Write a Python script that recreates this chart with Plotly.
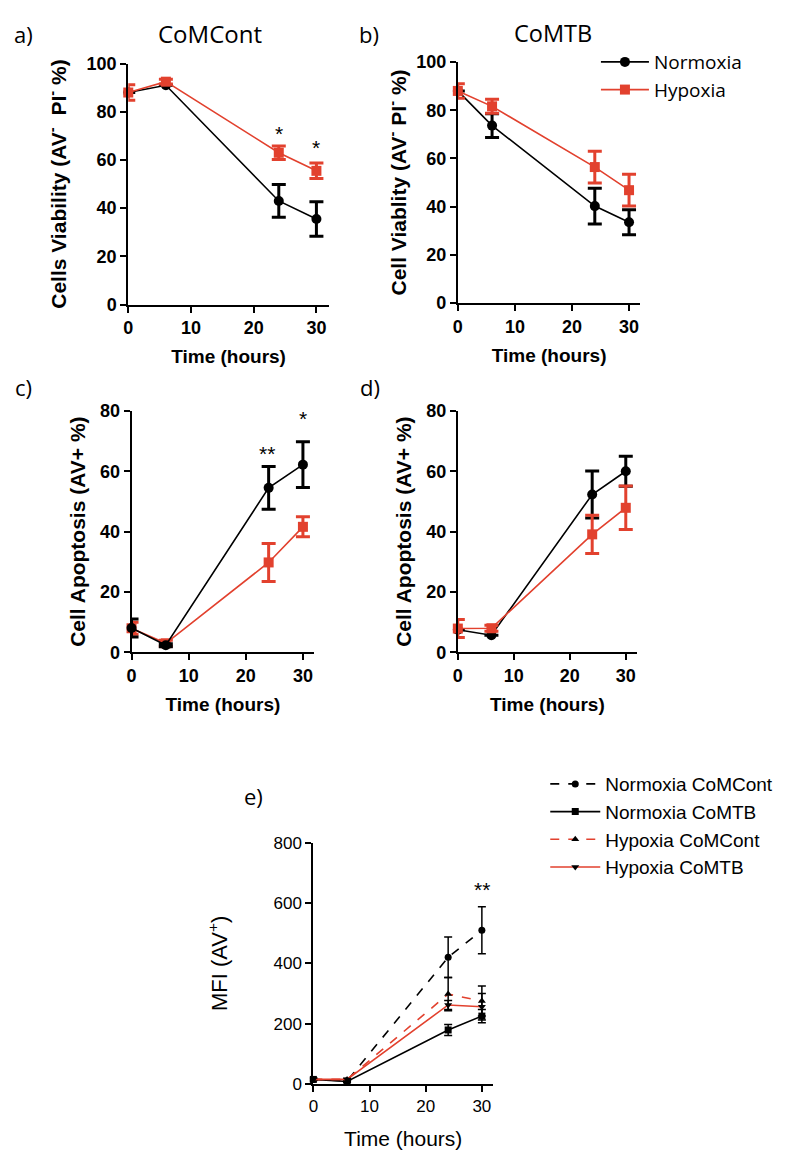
import plotly.graph_objects as go

# Mapping between figure pixels and the photographed picture (measured):
# picture_y = SY_ * (figure_y + 8) + CY ; picture_x = figure_x + 8 + CX
SY_ = 0.983
CX, CY = 2.0, 9.8
OFF = 8
W, H = 779, 1152
RED = "#e2412e"
BLACK = "#000000"

time = [0, 6, 24, 30]

# Panel a: CoMCont viability
a_norm = [88, 91, 43, 35.5]
a_norm_err = [0, 0, 6.8, 7.2]
a_hyp = [88, 92.5, 63, 55.5]
a_hyp_err = [3.2, 1, 2.8, 3.2]

# Panel b: CoMTB viability
b_norm = [88, 73.6, 40.2, 33.5]
b_norm_err = [0, 4.9, 7.4, 5.2]
b_hyp = [88, 81.6, 56.4, 46.8]
b_hyp_err = [3, 2.9, 6.6, 6.6]

# Panel c: CoMCont apoptosis
c_norm = [8.1, 2.4, 54.5, 62.2]
c_norm_err = [3, 0.5, 7.1, 7.6]
c_hyp = [8, 3, 29.8, 41.6]
c_hyp_err = [2, 1, 6.3, 3.3]

# Panel d: CoMTB apoptosis
d_norm = [7.5, 5.7, 52.3, 60]
d_norm_err = [0, 0, 7.8, 5]
d_hyp = [7.9, 8, 39.1, 47.9]
d_hyp_err = [3, 1, 6.3, 7.2]

# Panel e: MFI
e_norm_comcont = [15, 10, 420, 510]
e_norm_comcont_err = [3, 3, 67, 78]
e_norm_comtb = [15, 8, 179, 225]
e_norm_comtb_err = [3, 3, 18, 22]
e_hyp_comcont = [15, 15, 298, 275]
e_hyp_comcont_err = [3, 3, 55, 50]
e_hyp_comtb = [15, 15, 262, 256]
e_hyp_comtb_err = [3, 3, 15, 44]

fig = go.Figure()


def SX(x):
    return x - CX - OFF


def SY(y):
    return (y - CY) / SY_ - OFF


def PX(x):
    return max(0.0, SX(x)) / W


def PY(y):
    return 1 - max(0.0, SY(y)) / H


def xd(p0, p1):
    return [PX(p0), PX(p1)]


def yd(top, bottom):
    return [PY(bottom), PY(top)]


BOLD = dict(family="Liberation Sans", size=18, color="black", weight="bold")
REG = dict(family="Liberation Sans", size=17, color="black")


def add_axes(i, xdom, ydom, yrange, ydtick, ytitle, bold=True, xstand=13, ystand=8):
    f = BOLD if bold else REG
    xtf = dict(f, size=19) if bold else dict(f, size=21)
    ytf = dict(f, size=21) if bold else dict(f, size=22)
    xname = "xaxis" if i == 1 else f"xaxis{i}"
    yname = "yaxis" if i == 1 else f"yaxis{i}"
    anchor_x = "y" if i == 1 else f"y{i}"
    anchor_y = "x" if i == 1 else f"x{i}"
    fig.update_layout({
        xname: dict(domain=xdom, anchor=anchor_x, range=[0, 32], tickvals=[0, 10, 20, 30],
                    showline=True, linecolor="black", linewidth=2, ticks="outside",
                    ticklen=6, tickwidth=2, tickcolor="black", showgrid=False, zeroline=False,
                    tickfont=f, title=dict(text="Time (hours)", font=xtf, standoff=xstand)),
        yname: dict(domain=ydom, anchor=anchor_y, range=yrange, dtick=ydtick,
                    showline=True, linecolor="black", linewidth=2, ticks="outside",
                    ticklen=6, tickwidth=2, tickcolor="black", showgrid=False, zeroline=False,
                    tickfont=f, title=dict(text=ytitle, font=ytf, standoff=ystand)),
    })


add_axes(1, xd(126, 328), yd(63.3, 304.3), [0, 100], 20,
         "Cells Viability (AV<sup>-</sup>  PI<sup>-</sup> %)", ystand=14)
add_axes(2, xd(457.7, 641.5), yd(61.7, 302.7), [0, 100], 20,
         "Cell Viablity (AV<sup>-</sup> PI<sup>-</sup> %)", ystand=4)
add_axes(3, xd(129.3, 313.3), yd(410.7, 652.3), [0, 80], 20, "Cell Apoptosis (AV+ %)", ystand=9)
add_axes(4, xd(457.7, 638), yd(410.7, 652.3), [0, 80], 20, "Cell Apoptosis (AV+ %)", ystand=9)
add_axes(5, xd(312.3, 493.2), yd(842.7, 1084), [0, 800], 200, "MFI (AV<sup>+</sup>)",
         bold=False, xstand=16, ystand=40)


def series(xa, ya, y, err, color, symbol, name, show, legend="legend"):
    fig.add_trace(go.Scatter(
        x=time, y=y, xaxis=xa, yaxis=ya, mode="lines+markers", name=name,
        showlegend=show, legend=legend, cliponaxis=False,
        line=dict(color=color, width=1.6),
        marker=dict(color=color, symbol=symbol, size=10),
        error_y=dict(type="data", array=err, thickness=3, width=7, color=color),
    ))


series("x", "y", a_norm, a_norm_err, BLACK, "circle", "Normoxia", False)
series("x", "y", a_hyp, a_hyp_err, RED, "square", "Hypoxia", False)
series("x2", "y2", b_norm, b_norm_err, BLACK, "circle", "Normoxia", True)
series("x2", "y2", b_hyp, b_hyp_err, RED, "square", "Hypoxia", True)
series("x3", "y3", c_hyp, c_hyp_err, RED, "square", "Hypoxia", False)
series("x3", "y3", c_norm, c_norm_err, BLACK, "circle", "Normoxia", False)
series("x4", "y4", d_norm, d_norm_err, BLACK, "circle", "Normoxia", False)
series("x4", "y4", d_hyp, d_hyp_err, RED, "square", "Hypoxia", False)


def eseries(y, err, color, dash, symbol, name, msize):
    fig.add_trace(go.Scatter(
        x=time, y=y, xaxis="x5", yaxis="y5", mode="lines+markers", name=name,
        legend="legend2", cliponaxis=False,
        line=dict(color=color, width=1.6, dash=dash),
        marker=dict(color="black", symbol=symbol, size=msize),
        error_y=dict(type="data", array=err, thickness=1.5, width=4, color="black"),
    ))


eseries(e_norm_comcont, e_norm_comcont_err, BLACK, "dash", "circle", "Normoxia CoMCont", 7)
eseries(e_norm_comtb, e_norm_comtb_err, BLACK, "solid", "square", "Normoxia CoMTB", 7)
eseries(e_hyp_comcont, e_hyp_comcont_err, RED, "dash", "triangle-up", "Hypoxia CoMCont", 7)
eseries(e_hyp_comtb, e_hyp_comtb_err, RED, "solid", "triangle-down", "Hypoxia CoMTB", 7)

ann = []


def star(xr, yr, x, y, t):
    ann.append(dict(xref=xr, yref=yr, x=x, y=y, text=t, showarrow=False,
                    font=dict(family="Liberation Sans", size=21, color="black")))


star("x", "y", 24, 71, "*")
star("x", "y", 30, 65, "*")
star("x3", "y3", 23.7, 66, "**")
star("x3", "y3", 30, 77.5, "*")
star("x5", "y5", 30, 645, "**")


def ptext(x, y, t, size=22, fam="Open Sans", anchor="left", yanchor="middle", pad=1):
    ann.append(dict(xref="paper", yref="paper", x=PX(x), y=PY(y), text=t,
                    showarrow=False, xanchor=anchor, yanchor=yanchor, borderpad=pad,
                    font=dict(family=fam, size=size, color="black")))


# panel letters at the very top: anchored to the top edge so they are not cut
ptext(0, 0, "a)", yanchor="top", pad=0)
ptext(357, 0, "b)", yanchor="top", pad=0)
ptext(0, 387, "c)")
ptext(357, 387, "d)")
ptext(240, 796, "e)")
ptext(208, 33, "CoMCont", size=24, anchor="center")
ptext(553, 33, "CoMTB", size=23.5, anchor="center")

fig.update_layout(
    width=W, height=H, margin=dict(l=0, r=0, t=0, b=0),
    paper_bgcolor="white", plot_bgcolor="white",
    annotations=ann,
    legend=dict(x=PX(596.7), y=PY(42.7), xanchor="left", yanchor="top",
                font=dict(family="Open Sans", size=19, color="black"),
                bgcolor="rgba(0,0,0,0)", tracegroupgap=0, itemwidth=48),
    legend2=dict(x=PX(545.7), y=PY(765), xanchor="left", yanchor="top",
                 font=dict(family="Liberation Sans", size=19, color="black"),
                 bgcolor="rgba(0,0,0,0)", tracegroupgap=0, itemwidth=50),
)

fig.write_html("out.html")
